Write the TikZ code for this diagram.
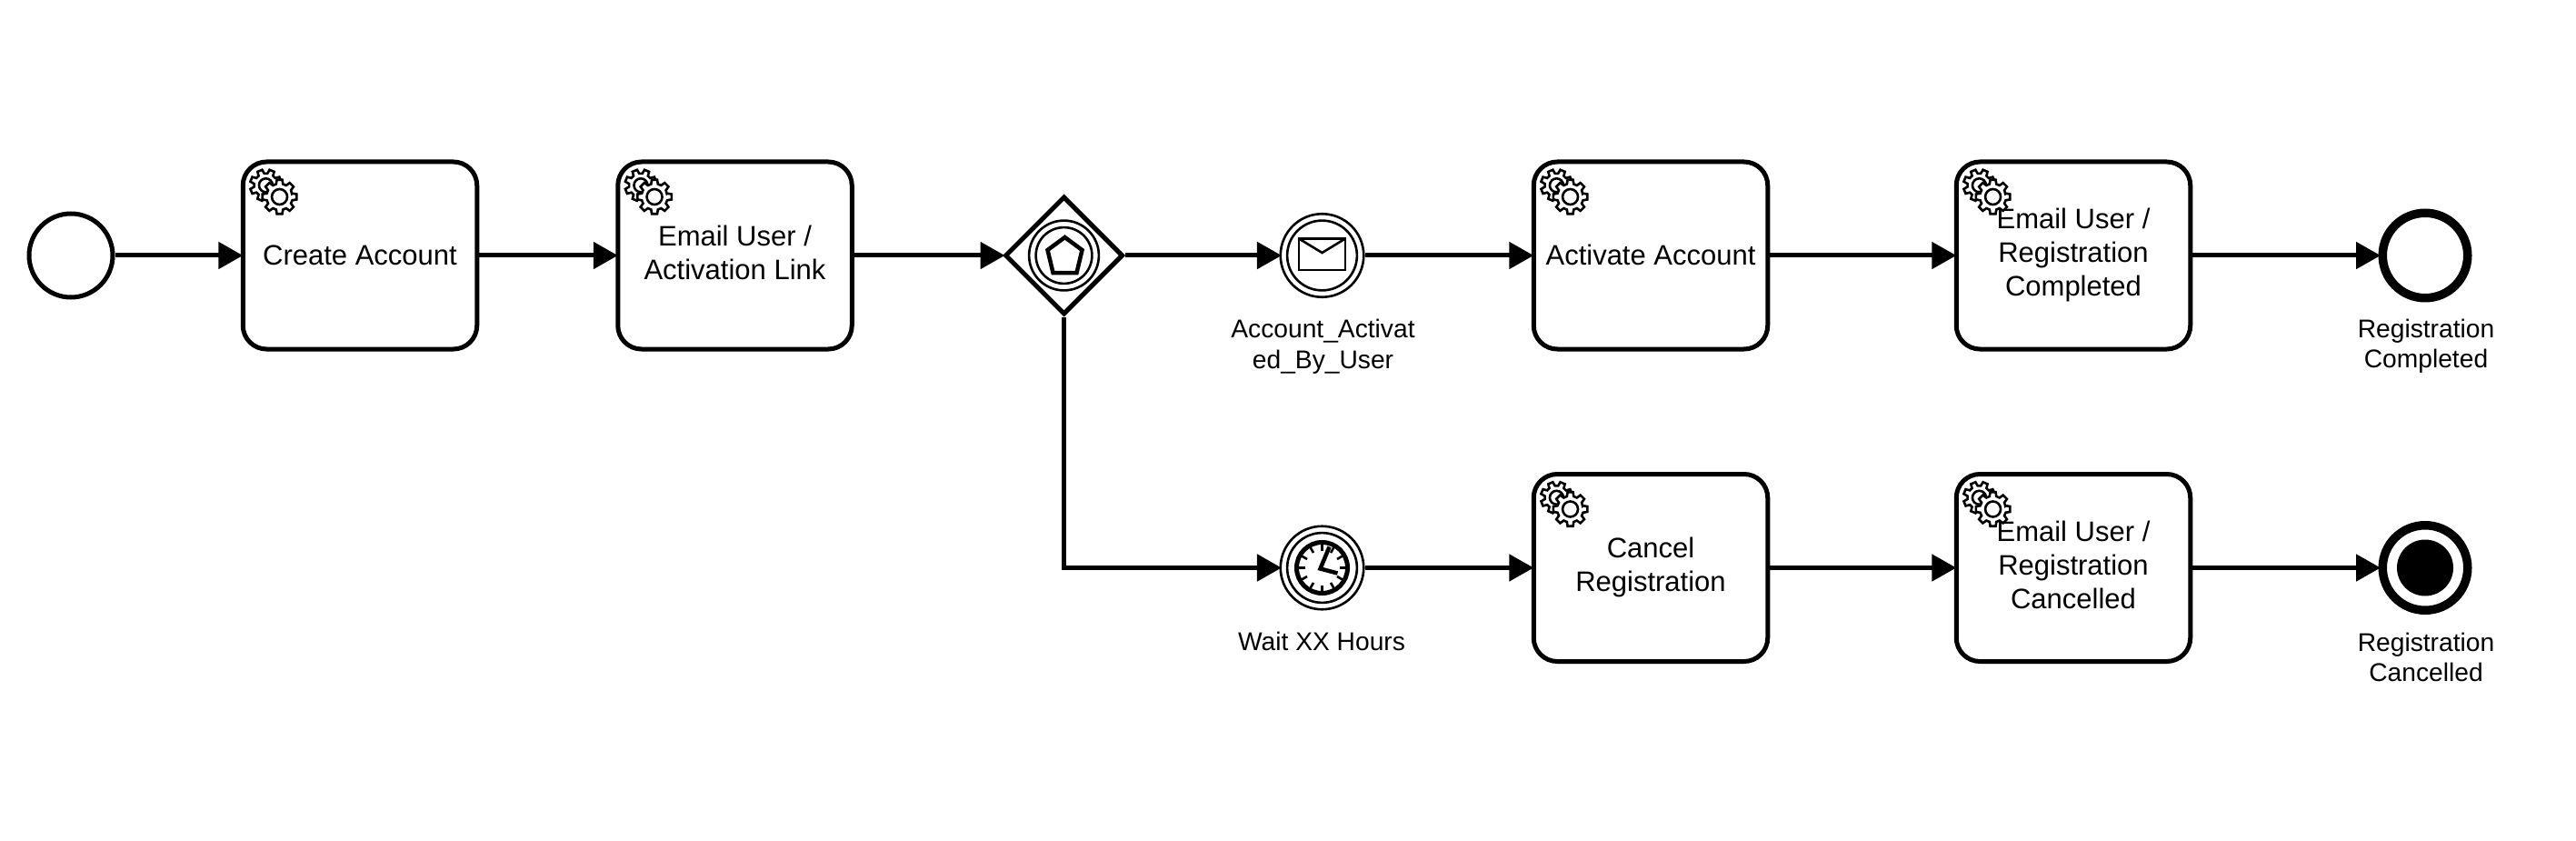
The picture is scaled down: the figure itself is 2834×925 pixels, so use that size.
\documentclass[tikz,border=0pt]{standalone}
\usepackage{fontspec}
\setmainfont{Liberation Sans}
\usetikzlibrary{arrows.meta,shapes.geometric}
\newcommand{\taskstrut}{\rule[-7pt]{0pt}{35pt}}
\newcommand{\labelstrut}{\rule[-6pt]{0pt}{28pt}}
\tikzset{
  x=1pt,y=-1pt,
  flow/.style={line width=5pt,shorten >=-2.5pt,-{Triangle[length=27pt,width=29pt]}},
  taskbox/.style={draw,line width=5pt,rounded corners=26pt,minimum width=257.5pt,minimum height=206pt,inner sep=0pt,align=center,
    font=\fontsize{31}{37}\selectfont,execute at begin node=\taskstrut,execute at end node=\taskstrut},
  tasklines/.style={execute at begin node=\rule{0pt}{31.6pt}},
  startev/.style={draw,circle,line width=5pt,minimum size=92pt,inner sep=0pt},
  endev/.style={draw,circle,line width=9.5pt,minimum size=93.5pt,inner sep=0pt},
  catchev/.style={draw,circle,line width=2.6pt,minimum size=91.5pt,inner sep=0pt},
  ring/.style={draw,circle,line width=2.6pt,inner sep=0pt},
  gatewayshape/.style={draw,diamond,aspect=1,line width=5pt,minimum width=130pt,minimum height=130pt,inner sep=0pt},
  evlabel/.style={inner sep=0pt,align=center,font=\fontsize{28.2}{33.5}\selectfont,anchor=center,execute at begin node=\labelstrut,execute at end node=\labelstrut},
  iconline/.style={line width=2.6pt,line join=miter},
  cog/.pic={
    \draw[iconline,fill=white] (-14:14) \foreach \a in {0,45,...,315}{ -- (\a-15:14.5) -- (\a-9:19) -- (\a+9:19) -- (\a+15:14.5)} -- cycle;
    \draw[iconline] (0,0) circle (8.5);
  },
  backcog/.pic={
    \draw[iconline,fill=white] (8:13) \foreach \a in {22.5,67.5,...,337.5}{ -- (\a-15:13) -- (\a-9:17.5) -- (\a+9:17.5) -- (\a+15:13)} -- cycle;
    \draw[iconline] (0,0) circle (7.5);
  },
  taskgears/.pic={
    \path (27.7,28.3) pic {backcog};
    \path (42.8,41) pic {cog};
  },
}
\begin{document}
\begin{tikzpicture}
\fill[white] (0,0) rectangle (2834,925);
\useasboundingbox (0,0) rectangle (2834,925);
% events and activities
\node[startev] (start) at (78,281) {};
\node[taskbox] (create) at (396,281) {Create Account};
\node[taskbox,tasklines] (link) at (808.5,281) {Email User /\\Activation Link};
\node[gatewayshape] (gw) at (1170.5,281) {};
\node[ring,minimum size=76.8pt] (gwo) at (gw.center) {};
\node[ring,minimum size=61.8pt] (gwi) at (gw.center) {};
\node[catchev] (msg) at (1454.5,281) {};
\node[ring,minimum size=76.8pt] (msgi) at (msg.center) {};
\node[taskbox] (activate) at (1816,281) {Activate Account};
\node[taskbox,tasklines] (mailok) at (2281,281) {Email User /\\Registration\\Completed};
\node[endev] (endok) at (2668,281) {};
\node[catchev] (timer) at (1454.5,624.5) {};
\node[ring,minimum size=76.8pt] (timeri) at (timer.center) {};
\node[taskbox,tasklines] (cancel) at (1816,624.5) {Cancel\\Registration};
\node[taskbox,tasklines] (mailno) at (2281,624.5) {Email User /\\Registration\\Cancelled};
\node[endev] (endno) at (2668,624.5) {};
\node[circle,fill=black,minimum size=62pt,inner sep=0pt] (endnodot) at (endno.center) {};
% gears
\foreach \t in {create,link,activate,mailok,cancel,mailno}{
  \path (\t.north west) pic {taskgears};
}
% labels
\node[evlabel] (lmsg) at (1455.5,381.5) {Account\_Activat\\ed\_By\_User};
\node[evlabel] (ltimer) at (1454,707) {Wait XX Hours};
\node[evlabel] (lok) at (2669,381) {Registration\\Completed};
\node[evlabel] (lno) at (2669,726) {Registration\\Cancelled};
% gateway pentagon
\draw[line width=4.5pt,line join=miter] ([shift={(1,-20)}]gw.center) coordinate (p1) -- ([shift={(20,-6)}]gw.center) -- ([shift={(14,19)}]gw.center) -- ([shift={(-12,19)}]gw.center) -- ([shift={(-18,-6)}]gw.center) -- cycle;
% envelope
\draw[line width=2.6pt] ([shift={(-25.5,-18.5)}]msg.center) rectangle ([shift={(25.5,16)}]msg.center);
\draw[line width=2.6pt] ([shift={(-25.5,-18.5)}]msg.center) -- ([shift={(0,-3)}]msg.center) -- ([shift={(25.5,-18.5)}]msg.center);
% clock
\draw[line width=5pt] (timer.center) circle (28);
\foreach \a in {0,30,...,330}{
  \draw[line width=2.6pt] ([shift={(\a:19)}]timer.center) -- ([shift={(\a:27)}]timer.center);
}
\draw[line width=4.5pt,line join=miter] ([shift={(8,-23)}]timer.center) -- ([shift={(-2,1)}]timer.center) -- ([shift={(17,6)}]timer.center);
% connectors
\draw[flow] (start) -- (create);
\draw[flow] (create) -- (link);
\draw[flow] (link) -- (gw);
\draw[flow] (gw) -- (msg);
\draw[flow] (msg) -- (activate);
\draw[flow] (activate) -- (mailok);
\draw[flow] (mailok) -- (endok);
\draw[flow] (gw.south) |- (timer.west);
\draw[flow] (timer) -- (cancel);
\draw[flow] (cancel) -- (mailno);
\draw[flow] (mailno) -- (endno);
\end{tikzpicture}
\end{document}
